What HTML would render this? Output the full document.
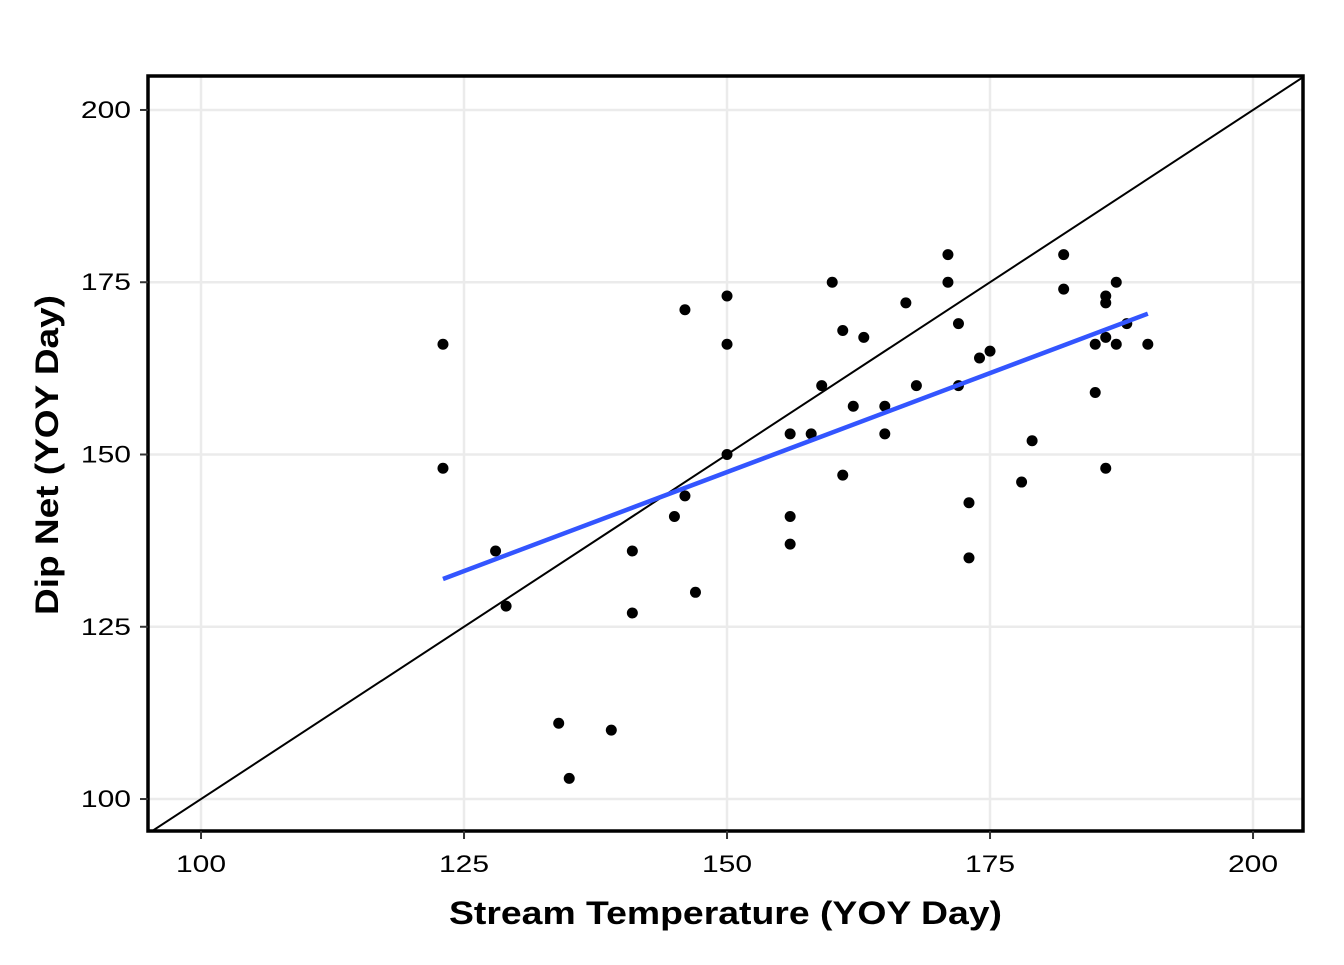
<!DOCTYPE html>
<html><head><meta charset="utf-8"><style>
html,body{margin:0;padding:0;background:#fff;}
svg text{font-family:"Liberation Sans",Arial,sans-serif;}
</style></head><body>
<svg id="chart" width="1344" height="960" xmlns="http://www.w3.org/2000/svg"></svg>
<script>
const xs=[123,123,128,129,134,135,139,141,141,145,146,146,147,150,150,150,156,156,156,158,159,160,161,161,162,163,165,165,167,168,171,171,172,172,173,173,174,175,178,179,182,182,185,185,186,186,186,186,187,187,188,190];
const ys=[166,148,136,128,111,103,110,136,127,141,171,144,130,173,166,150,153,141,137,153,160,175,168,147,157,167,157,153,172,160,179,175,169,160,143,135,164,165,146,152,179,174,166,159,172,173,167,148,175,166,169,166];
const xTicks=[100,125,150,175,200];
const yTicks=[100,125,150,175,200];
const X0=94.96,X1=204.75,Y0=95.36,Y1=204.93;
const L=148,R=1303,T=76,B=831;
const sx=v=>L+(v-X0)/(X1-X0)*(R-L);
const sy=v=>B-(v-Y0)/(Y1-Y0)*(B-T);
const svg=document.getElementById('chart');
const NS='http://www.w3.org/2000/svg';
function mk(tag,attrs,parent){const e=document.createElementNS(NS,tag);for(const k in attrs)e.setAttribute(k,attrs[k]);(parent||svg).appendChild(e);return e;}
const grid=mk('g',{});


xTicks.forEach(t=>{const l=mk('line',{x1:sx(t),x2:sx(t),y1:T,y2:B,stroke:'#ebebeb','stroke-width':2.5},grid);

});
yTicks.forEach(t=>{const l=mk('line',{x1:L,x2:R,y1:sy(t),y2:sy(t),stroke:'#ebebeb','stroke-width':2.5},grid);

});
const cp=mk('clipPath',{id:'cp'});mk('rect',{x:L,y:T,width:R-L,height:B-T},cp);
const id=mk('line',{x1:sx(X0),y1:sy(X0),x2:sx(X1),y2:sy(X1),stroke:'#000','stroke-width':2,'clip-path':'url(#cp)'});


const pts=mk('g',{});


xs.forEach((x,i)=>{const c=mk('circle',{cx:sx(x),cy:sy(ys[i]),r:5.5,fill:'#000'},pts);

});
const n=xs.length,mx=xs.reduce((a,b)=>a+b)/n,my=ys.reduce((a,b)=>a+b)/n;
let sxy=0,sxx=0;xs.forEach((x,i)=>{sxy+=(x-mx)*(ys[i]-my);sxx+=(x-mx)**2;});
const b=sxy/sxx,a=my-b*mx,xmin=Math.min(...xs),xmax=Math.max(...xs);
const reg=mk('line',{x1:sx(xmin),y1:sy(a+b*xmin),x2:sx(xmax),y2:sy(a+b*xmax),stroke:'#3355ff','stroke-width':4.5});


const border=mk('rect',{x:L,y:T,width:R-L,height:B-T,fill:'none',stroke:'#000','stroke-width':3.5});


xTicks.forEach(t=>{const tk=mk('line',{x1:sx(t),x2:sx(t),y1:B,y2:B+8,stroke:'#333','stroke-width':2});


const tx=mk('text',{x:sx(t),y:B+41,'text-anchor':'middle','font-size':24,fill:'#000',textLength:String(t).length*16.7,lengthAdjust:'spacingAndGlyphs'});tx.textContent=t;

});
yTicks.forEach(t=>{const tk=mk('line',{x1:L-8,x2:L,y1:sy(t),y2:sy(t),stroke:'#333','stroke-width':2});


const tx=mk('text',{x:L-17,y:sy(t)+8,'text-anchor':'end','font-size':24,fill:'#000',textLength:String(t).length*16.7,lengthAdjust:'spacingAndGlyphs'});tx.textContent=t;

});
const xt=mk('text',{x:(L+R)/2,y:924,'text-anchor':'middle','font-size':32,'font-weight':'bold',textLength:553,lengthAdjust:'spacingAndGlyphs'});xt.textContent='Stream Temperature (YOY Day)';


const yt=mk('text',{x:0,y:0,'text-anchor':'middle','font-size':32,'font-weight':'bold',textLength:320,lengthAdjust:'spacingAndGlyphs',transform:`translate(58,455) rotate(-90)`});yt.textContent='Dip Net (YOY Day)';


</script>
</body></html>
